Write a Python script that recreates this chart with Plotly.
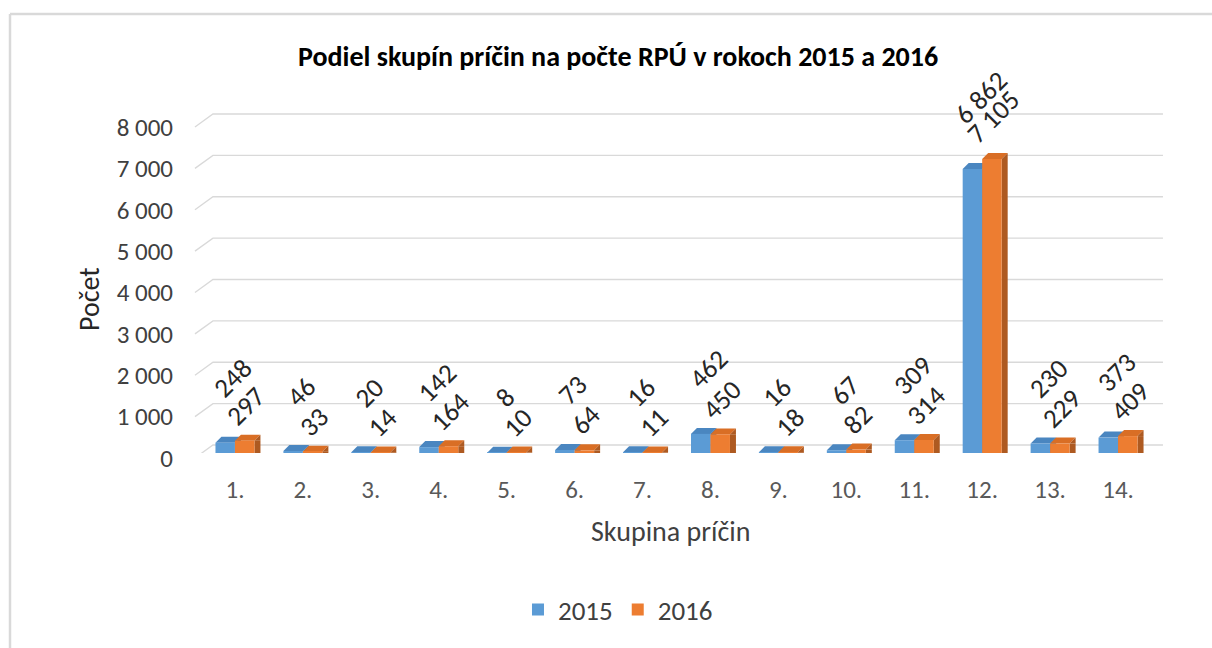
import plotly.graph_objects as go

categories = ["1.", "2.", "3.", "4.", "5.", "6.", "7.", "8.", "9.", "10.", "11.", "12.", "13.", "14."]
values_2015 = [248, 46, 20, 142, 8, 73, 16, 462, 16, 67, 309, 6862, 230, 373]
values_2016 = [297, 33, 14, 164, 10, 64, 11, 450, 18, 82, 314, 7105, 229, 409]
series_names = ["2015", "2016"]
y_ticks = [0, 1000, 2000, 3000, 4000, 5000, 6000, 7000, 8000]

FONT = "Carlito, Lato, sans-serif"
C_BLUE, C_ORANGE = "#5B9BD5", "#ED7D31"
TOP_BLUE, TOP_ORANGE = "#4A86C0", "#D96E25"
SIDE_BLUE, SIDE_ORANGE = "#41719C", "#AE5A21"
W = 19.5   # bar front width (px)
D = 6      # 3D depth (px)

# layout geometry (pixels)
FIG_W, FIG_H = 1212, 648
CAT_PX = 67.93                 # pixels per category
EXT_L, EXT_R = 20, 15          # extra plot room left/right of the categories (px)
ML, MT, MB = 181, 102, 195
PW = 14 * CAT_PX + EXT_L + EXT_R
MR = FIG_W - ML - PW
PH = FIG_H - MT - MB
Y_PX = 331 / 8000              # pixels per unit
X_RANGE = [-0.5 - EXT_L / CAT_PX, 13.5 + EXT_R / CAT_PX]
Y_RANGE = [0, PH / Y_PX]

def px(x):
    return (x - ML) / PW

def py(y):
    return (FIG_H - MB - y) / PH

def fmt(v):
    return f"{v:,}".replace(",", " ")

fig = go.Figure()
fig.add_trace(go.Bar(x=categories, y=values_2015, name=series_names[0],
                     marker=dict(color=C_BLUE, line=dict(width=0))))
fig.add_trace(go.Bar(x=categories, y=values_2016, name=series_names[1],
                     marker=dict(color=C_ORANGE, line=dict(width=0))))

shapes = []
# 3D-style gridlines (front slant + back wall line)
for t in y_ticks:
    shapes.append(dict(type="path", xref="x", yref="y", xsizemode="pixel", ysizemode="pixel",
                       xanchor=0, yanchor=t,
                       path="M -40,-5 L -22,8 L 928,8",
                       line=dict(color="#D9D9D9", width=1.3), layer="below"))
# 3D faces for bars: side faces (x in px, y in data) then top faces (px)
for i, (v1, v2) in enumerate(zip(values_2015, values_2016)):
    for v, x0, side in ((v1, -W, SIDE_BLUE), (v2, 0, SIDE_ORANGE)):
        x1 = x0 + W
        shapes.append(dict(type="path", xref="x", yref="y", xsizemode="pixel",
                           xanchor=i,
                           path=f"M {x1},0 L {x1+D},0 L {x1+D},{v} L {x1},{v} Z",
                           fillcolor=side, line=dict(width=0), layer="below"))
for i, (v1, v2) in enumerate(zip(values_2015, values_2016)):
    for v, x0, top in ((v1, -W, TOP_BLUE), (v2, 0, TOP_ORANGE)):
        x1 = x0 + W
        shapes.append(dict(type="path", xref="x", yref="y", xsizemode="pixel", ysizemode="pixel",
                           xanchor=i, yanchor=v,
                           path=f"M {x0},0 L {x0+D},{D} L {x1+D},{D} L {x1},0 Z",
                           fillcolor=top, line=dict(width=0), layer="below"))
        shapes.append(dict(type="path", xref="x", yref="y", xsizemode="pixel", ysizemode="pixel",
                           xanchor=i, yanchor=v,
                           path=f"M {x1},0 L {x1+D},{D} L {x1+D},0 Z",
                           fillcolor=SIDE_ORANGE if x0 == 0 else SIDE_BLUE,
                           line=dict(width=0), layer="below"))

# chart frame
shapes.append(dict(type="line", xref="paper", yref="paper", x0=px(10), x1=px(1230), y0=py(14), y1=py(14),
                   line=dict(color="#D9D9D9", width=2.5)))
shapes.append(dict(type="line", xref="paper", yref="paper", x0=px(10), x1=px(10), y0=py(14), y1=py(670),
                   line=dict(color="#D9D9D9", width=2.5)))

annotations = []
for i, (v1, v2) in enumerate(zip(values_2015, values_2016)):
    annotations.append(dict(x=i, y=v1, xref="x", yref="y", text=fmt(v1), showarrow=False,
                            textangle=-45, xanchor="center", yanchor="bottom",
                            xshift=-2, yshift=36, font=dict(family=FONT, size=27, color="#262626")))
    annotations.append(dict(x=i, y=v2, xref="x", yref="y", text=fmt(v2), showarrow=False,
                            textangle=-45, xanchor="center", yanchor="bottom",
                            xshift=11, yshift=6, font=dict(family=FONT, size=27, color="#262626")))
annotations.append(dict(x=px(89), y=py(299), xref="paper", yref="paper", text="Počet", showarrow=False,
                        xanchor="center", yanchor="middle",
                        textangle=-90, font=dict(family=FONT, size=28, color="#262626")))
annotations.append(dict(x=px(671), y=py(531), xref="paper", yref="paper", text="Skupina príčin",
                        xanchor="center", yanchor="middle",
                        showarrow=False, font=dict(family=FONT, size=28, color="#404040")))

fig.update_layout(
    width=FIG_W, height=FIG_H,
    margin=dict(l=ML, r=MR, t=MT, b=MB, autoexpand=False),
    paper_bgcolor="white", plot_bgcolor="white",
    barmode="group", bargap=0.426, bargroupgap=0,
    separators=", ",
    title=dict(text="<b>Podiel skupín príčin na počte RPÚ v rokoch 2015 a 2016</b>",
               xref="container", x=0.51, xanchor="center", yref="container", y=0.9135, yanchor="middle",
               font=dict(family=FONT, size=28, color="#000000")),
    xaxis=dict(type="category", range=X_RANGE, autorange=False, automargin=False,
               showgrid=False, showline=False, zeroline=False, ticks="",
               tickfont=dict(family=FONT, size=25, color="#595959"), ticklabelstandoff=19),
    yaxis=dict(range=Y_RANGE, autorange=False, automargin=False, tickvals=y_ticks, tickformat=",d",
               showgrid=False, zeroline=False, showline=False,
               ticks="outside", ticklen=2, tickcolor="rgba(0,0,0,0)",
               tickfont=dict(family=FONT, size=25, color="#404040"), ticklabelshift=5),
    legend=dict(orientation="h", x=px(618), xanchor="center", y=py(610), yanchor="middle",
                font=dict(family=FONT, size=27, color="#404040"), itemwidth=30, traceorder="normal"),
    shapes=shapes, annotations=annotations,
)

fig.write_html("out.html", config={"displayModeBar": False},
               post_script="document.body.style.margin='0';")
